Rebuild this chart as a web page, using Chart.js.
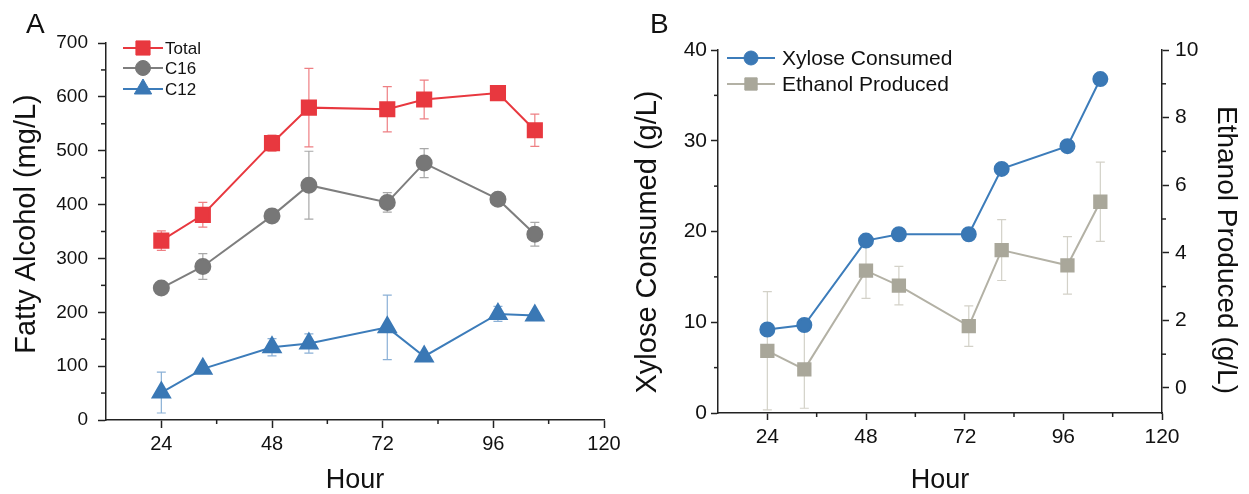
<!DOCTYPE html>
<html><head><meta charset="utf-8">
<script src="https://cdn.jsdelivr.net/npm/chart.js@4.4.1/dist/chart.umd.min.js"></script>
<style>
html,body{margin:0;padding:0;background:#fff;width:1249px;height:494px;overflow:hidden}
#a{position:absolute;left:0;top:0}
#b{position:absolute;left:620px;top:0}
</style></head><body>
<canvas id="a" width="620" height="494"></canvas>
<canvas id="b" width="629" height="494"></canvas>
<script>
// ---- data ----
const hours = [24, 33, 48, 56, 73, 81, 97, 105];
const totalFA = [333, 381, 514, 580, 577, 595, 607, 538];
const totalErr = [18, 23, 15, 73, 42, 36, 0, 30];
const c16FA = [245, 285, 379, 436, 404, 477, 410, 345];
const c16Err = [0, 24, 0, 63, 18, 27, 0, 22];
const c12FA = [51, 95, 135, 142, 172, 118, 197, 194];
const c12Err = [38, 0, 16, 18, 60, 0, 14, 0];
const xylose = [9.2, 9.7, 19.0, 19.7, 19.7, 26.9, 29.4, 36.8];
const ethanol = [1.1, 0.55, 3.47, 3.03, 1.83, 4.08, 3.63, 5.51];
const ethanolErr = [1.75, 1.15, 0.82, 0.57, 0.6, 0.9, 0.85, 1.17];

const xMajor = [24, 48, 72, 96, 120];
const xMinor = [36, 60, 84, 108];
const yMajorA = [0, 100, 200, 300, 400, 500, 600, 700];
const yMinorA = [50, 150, 250, 350, 450, 550, 650];
const yMajorB = [0, 10, 20, 30, 40];
const yMinorB = [5, 15, 25, 35];
const y2MajorB = [0, 2, 4, 6, 8, 10];
const y2MinorB = [1, 3, 5, 7, 9];

const FONT = "'Liberation Sans', Arial, Helvetica, sans-serif";
Chart.defaults.font.family = FONT;
Chart.defaults.color = '#111';
const AX = '#222';

const pts = (ys) => hours.map((h, i) => ({x: h, y: ys[i]}));

// ---- plugins ----
function errorBarPlugin(specs) {
  return {
    id: 'errbars',
    beforeDatasetsDraw(chart) {
      const ctx = chart.ctx;
      specs.forEach(sp => {
        const meta = chart.getDatasetMeta(sp.index);
        const ys = chart.scales[meta.yAxisID];
        const vals = chart.data.datasets[sp.index].data;
        ctx.save();
        ctx.strokeStyle = sp.color;
        ctx.lineWidth = 1.2;
        vals.forEach((p, j) => {
          const e = sp.errs[j];
          if (!e) return;
          const x = meta.data[j].x;
          const t = ys.getPixelForValue(p.y + e);
          const b = ys.getPixelForValue(p.y - e);
          ctx.beginPath();
          ctx.moveTo(x, t); ctx.lineTo(x, b);
          ctx.moveTo(x - 4.5, t); ctx.lineTo(x + 4.5, t);
          ctx.moveTo(x - 4.5, b); ctx.lineTo(x + 4.5, b);
          ctx.stroke();
        });
        ctx.restore();
      });
    }
  };
}

function minorTickPlugin(list) {
  return {
    id: 'minorTicks',
    afterDraw(chart) {
      const ctx = chart.ctx;
      ctx.save();
      ctx.strokeStyle = AX;
      ctx.lineWidth = 1.5;
      list.forEach(m => {
        const s = chart.scales[m.axis];
        m.values.forEach(v => {
          const p = s.getPixelForValue(v);
          ctx.beginPath();
          if (s.position === 'bottom') { ctx.moveTo(p, s.top); ctx.lineTo(p, s.top + m.len); }
          else if (s.position === 'left') { ctx.moveTo(s.right, p); ctx.lineTo(s.right - m.len, p); }
          else { ctx.moveTo(s.left, p); ctx.lineTo(s.left + m.len, p); }
          ctx.stroke();
        });
      });
      ctx.restore();
    }
  };
}

function drawMarker(ctx, style, r, x, y, color) {
  ctx.fillStyle = color; ctx.strokeStyle = color; ctx.lineWidth = 1;
  if (Chart.helpers && Chart.helpers.drawPoint) {
    Chart.helpers.drawPoint(ctx, {pointStyle: style, radius: r, rotation: 0, borderWidth: 1}, x, y);
  }
}

function legendPlugin(cfg) {
  return {
    id: 'customLegend',
    afterDraw(chart) {
      const ctx = chart.ctx;
      ctx.save();
      cfg.rows.forEach((row) => {
        const ds = chart.data.datasets[row.index];
        ctx.strokeStyle = ds.borderColor;
        ctx.lineWidth = ds.borderWidth;
        ctx.beginPath();
        ctx.moveTo(cfg.x1, row.y); ctx.lineTo(cfg.x2, row.y);
        ctx.stroke();
        drawMarker(ctx, ds.pointStyle, ds.pointRadius, (cfg.x1 + cfg.x2) / 2, row.y, ds.pointBackgroundColor);
        ctx.fillStyle = '#111';
        ctx.font = cfg.size + 'px ' + FONT;
        ctx.textBaseline = 'middle';
        ctx.textAlign = 'left';
        ctx.fillText(ds.label, cfg.tx, row.y + 1);
      });
      ctx.fillStyle = '#111';
      ctx.font = '28px ' + FONT;
      ctx.textBaseline = 'alphabetic';
      ctx.textAlign = 'left';
      ctx.fillText(cfg.panel, cfg.px, 33);
      // vertical axis titles
      (cfg.titles || []).forEach(t => {
        ctx.save();
        ctx.translate(t.x, t.y);
        ctx.rotate(t.rot * Math.PI / 180);
        ctx.font = t.size + 'px ' + FONT;
        ctx.textAlign = 'center';
        ctx.textBaseline = 'middle';
        ctx.fillStyle = '#111';
        ctx.fillText(t.text, 0, 0);
        ctx.restore();
      });
      ctx.restore();
    }
  };
}

function axisCommon(tickLen) {
  return {
    grid: {display: true, drawOnChartArea: false, drawTicks: true, tickLength: tickLen, tickColor: AX, tickWidth: 1.5},
    border: {display: true, color: AX, width: 1.5},
  };
}

// ---- Chart A ----
new Chart(document.getElementById('a'), {
  type: 'line',
  data: {
    datasets: [
      {label: 'Total', data: pts(totalFA), borderColor: '#E8383F', backgroundColor: '#E8383F',
       pointBackgroundColor: '#E8383F', pointBorderColor: '#E8383F', pointStyle: 'rect', pointRadius: 10, borderWidth: 2},
      {label: 'C16', data: pts(c16FA), borderColor: '#7E7E7E', backgroundColor: '#777',
       pointBackgroundColor: '#777777', pointBorderColor: '#777777', pointStyle: 'circle', pointRadius: 7.5, borderWidth: 2},
      {label: 'C12', data: pts(c12FA), borderColor: '#3C7CBA', backgroundColor: '#3A78B5',
       pointBackgroundColor: '#3A78B5', pointBorderColor: '#3A78B5', pointStyle: 'triangle', pointRadius: 10, borderWidth: 2}
    ]
  },
  options: {
    responsive: false, animation: false, devicePixelRatio: 1,
    layout: {padding: {top: 43, left: 0, right: 16, bottom: 0}},
    plugins: {legend: {display: false}, tooltip: {enabled: false}},
    elements: {line: {tension: 0}},
    scales: {
      x: Object.assign(axisCommon(8), {
        type: 'linear', min: 12, max: 120,
        afterBuildTicks: s => { s.ticks = xMajor.map(v => ({value: v})); },
        afterFit: s => { s.height = 74; s.paddingLeft = 0; s.paddingRight = 0; },
        ticks: {font: {size: 20}, color: '#111', padding: 4, maxRotation: 0, autoSkip: false},
        title: {display: true, text: 'Hour', font: {size: 27, lineHeight: 1}, color: '#111', padding: {top: 0, bottom: 0}}
      }),
      y: Object.assign(axisCommon(8), {
        type: 'linear', min: 0, max: 700, position: 'left',
        afterBuildTicks: s => { s.ticks = yMajorA.map(v => ({value: v})); },
        afterFit: s => { s.width = 106; s.paddingTop = 0; s.paddingBottom = 0; },
        ticks: {font: {size: 19}, color: '#111', padding: 10},
        title: {display: false}
      })
    }
  },
  plugins: [
    errorBarPlugin([
      {index: 0, errs: totalErr, color: '#EE7F83'},
      {index: 1, errs: c16Err, color: '#A8A8A8'},
      {index: 2, errs: c12Err, color: '#8AB0D6'}
    ]),
    minorTickPlugin([{axis: 'x', values: xMinor, len: 4}, {axis: 'y', values: yMinorA, len: 5}]),
    legendPlugin({x1: 123, x2: 163, tx: 165, size: 17, panel: 'A', px: 26,
      rows: [{index: 0, y: 48}, {index: 1, y: 68}, {index: 2, y: 89}],
      titles: [{text: 'Fatty Alcohol (mg/L)', x: 27, y: 224, rot: -90, size: 29}]})
  ]
});

// ---- Chart B ----
new Chart(document.getElementById('b'), {
  type: 'line',
  data: {
    datasets: [
      {label: 'Xylose Consumed', data: pts(xylose), yAxisID: 'y', borderColor: '#3C7CBA', backgroundColor: '#3A78B5',
       pointBackgroundColor: '#3A78B5', pointBorderColor: '#3A78B5', pointStyle: 'circle', pointRadius: 7, borderWidth: 2},
      {label: 'Ethanol Produced', data: pts(ethanol), yAxisID: 'y2', borderColor: '#B3B1A5', backgroundColor: '#A9A79A',
       pointBackgroundColor: '#A9A79A', pointBorderColor: '#A9A79A', pointStyle: 'rect', pointRadius: 8.7, borderWidth: 2}
    ]
  },
  options: {
    responsive: false, animation: false, devicePixelRatio: 1,
    layout: {padding: {top: 50, left: 0, right: 0, bottom: 0}},
    plugins: {legend: {display: false}, tooltip: {enabled: false}},
    elements: {line: {tension: 0}},
    scales: {
      x: Object.assign(axisCommon(7), {
        type: 'linear', min: 12, max: 120,
        afterBuildTicks: s => { s.ticks = xMajor.map(v => ({value: v})); },
        afterFit: s => { s.height = 81; s.paddingLeft = 0; s.paddingRight = 0; },
        ticks: {font: {size: 21}, color: '#111', padding: 5, maxRotation: 0, autoSkip: false},
        title: {display: true, text: 'Hour', font: {size: 27, lineHeight: 1}, color: '#111', padding: {top: 0, bottom: 0}}
      }),
      y: Object.assign(axisCommon(7), {
        type: 'linear', min: 0, max: 40, position: 'left',
        afterBuildTicks: s => { s.ticks = yMajorB.map(v => ({value: v})); },
        afterFit: s => { s.width = 98; s.paddingTop = 0; s.paddingBottom = 0; },
        ticks: {font: {size: 21}, color: '#111', padding: 4},
        title: {display: false}
      }),
      y2: Object.assign(axisCommon(7), {
        type: 'linear', min: -0.74, max: 10, position: 'right',
        afterBuildTicks: s => { s.ticks = y2MajorB.map(v => ({value: v})); },
        afterFit: s => { s.width = 87; s.paddingTop = 0; s.paddingBottom = 0; },
        ticks: {font: {size: 21}, color: '#111', padding: 6},
        title: {display: false}
      })
    }
  },
  plugins: [
    errorBarPlugin([{index: 1, errs: ethanolErr, color: '#D3D1C8'}]),
    minorTickPlugin([{axis: 'x', values: xMinor, len: 4}, {axis: 'y', values: yMinorB, len: 4}, {axis: 'y2', values: y2MinorB, len: 4}]),
    legendPlugin({x1: 107, x2: 155, tx: 162, size: 21, panel: 'B', px: 30,
      rows: [{index: 0, y: 58}, {index: 1, y: 84}],
      titles: [
        {text: 'Xylose Consumed (g/L)', x: 28, y: 242, rot: -90, size: 29},
        {text: 'Ethanol Produced (g/L)', x: 606, y: 250, rot: 90, size: 28}
      ]})
  ]
});
</script>
</body></html>
